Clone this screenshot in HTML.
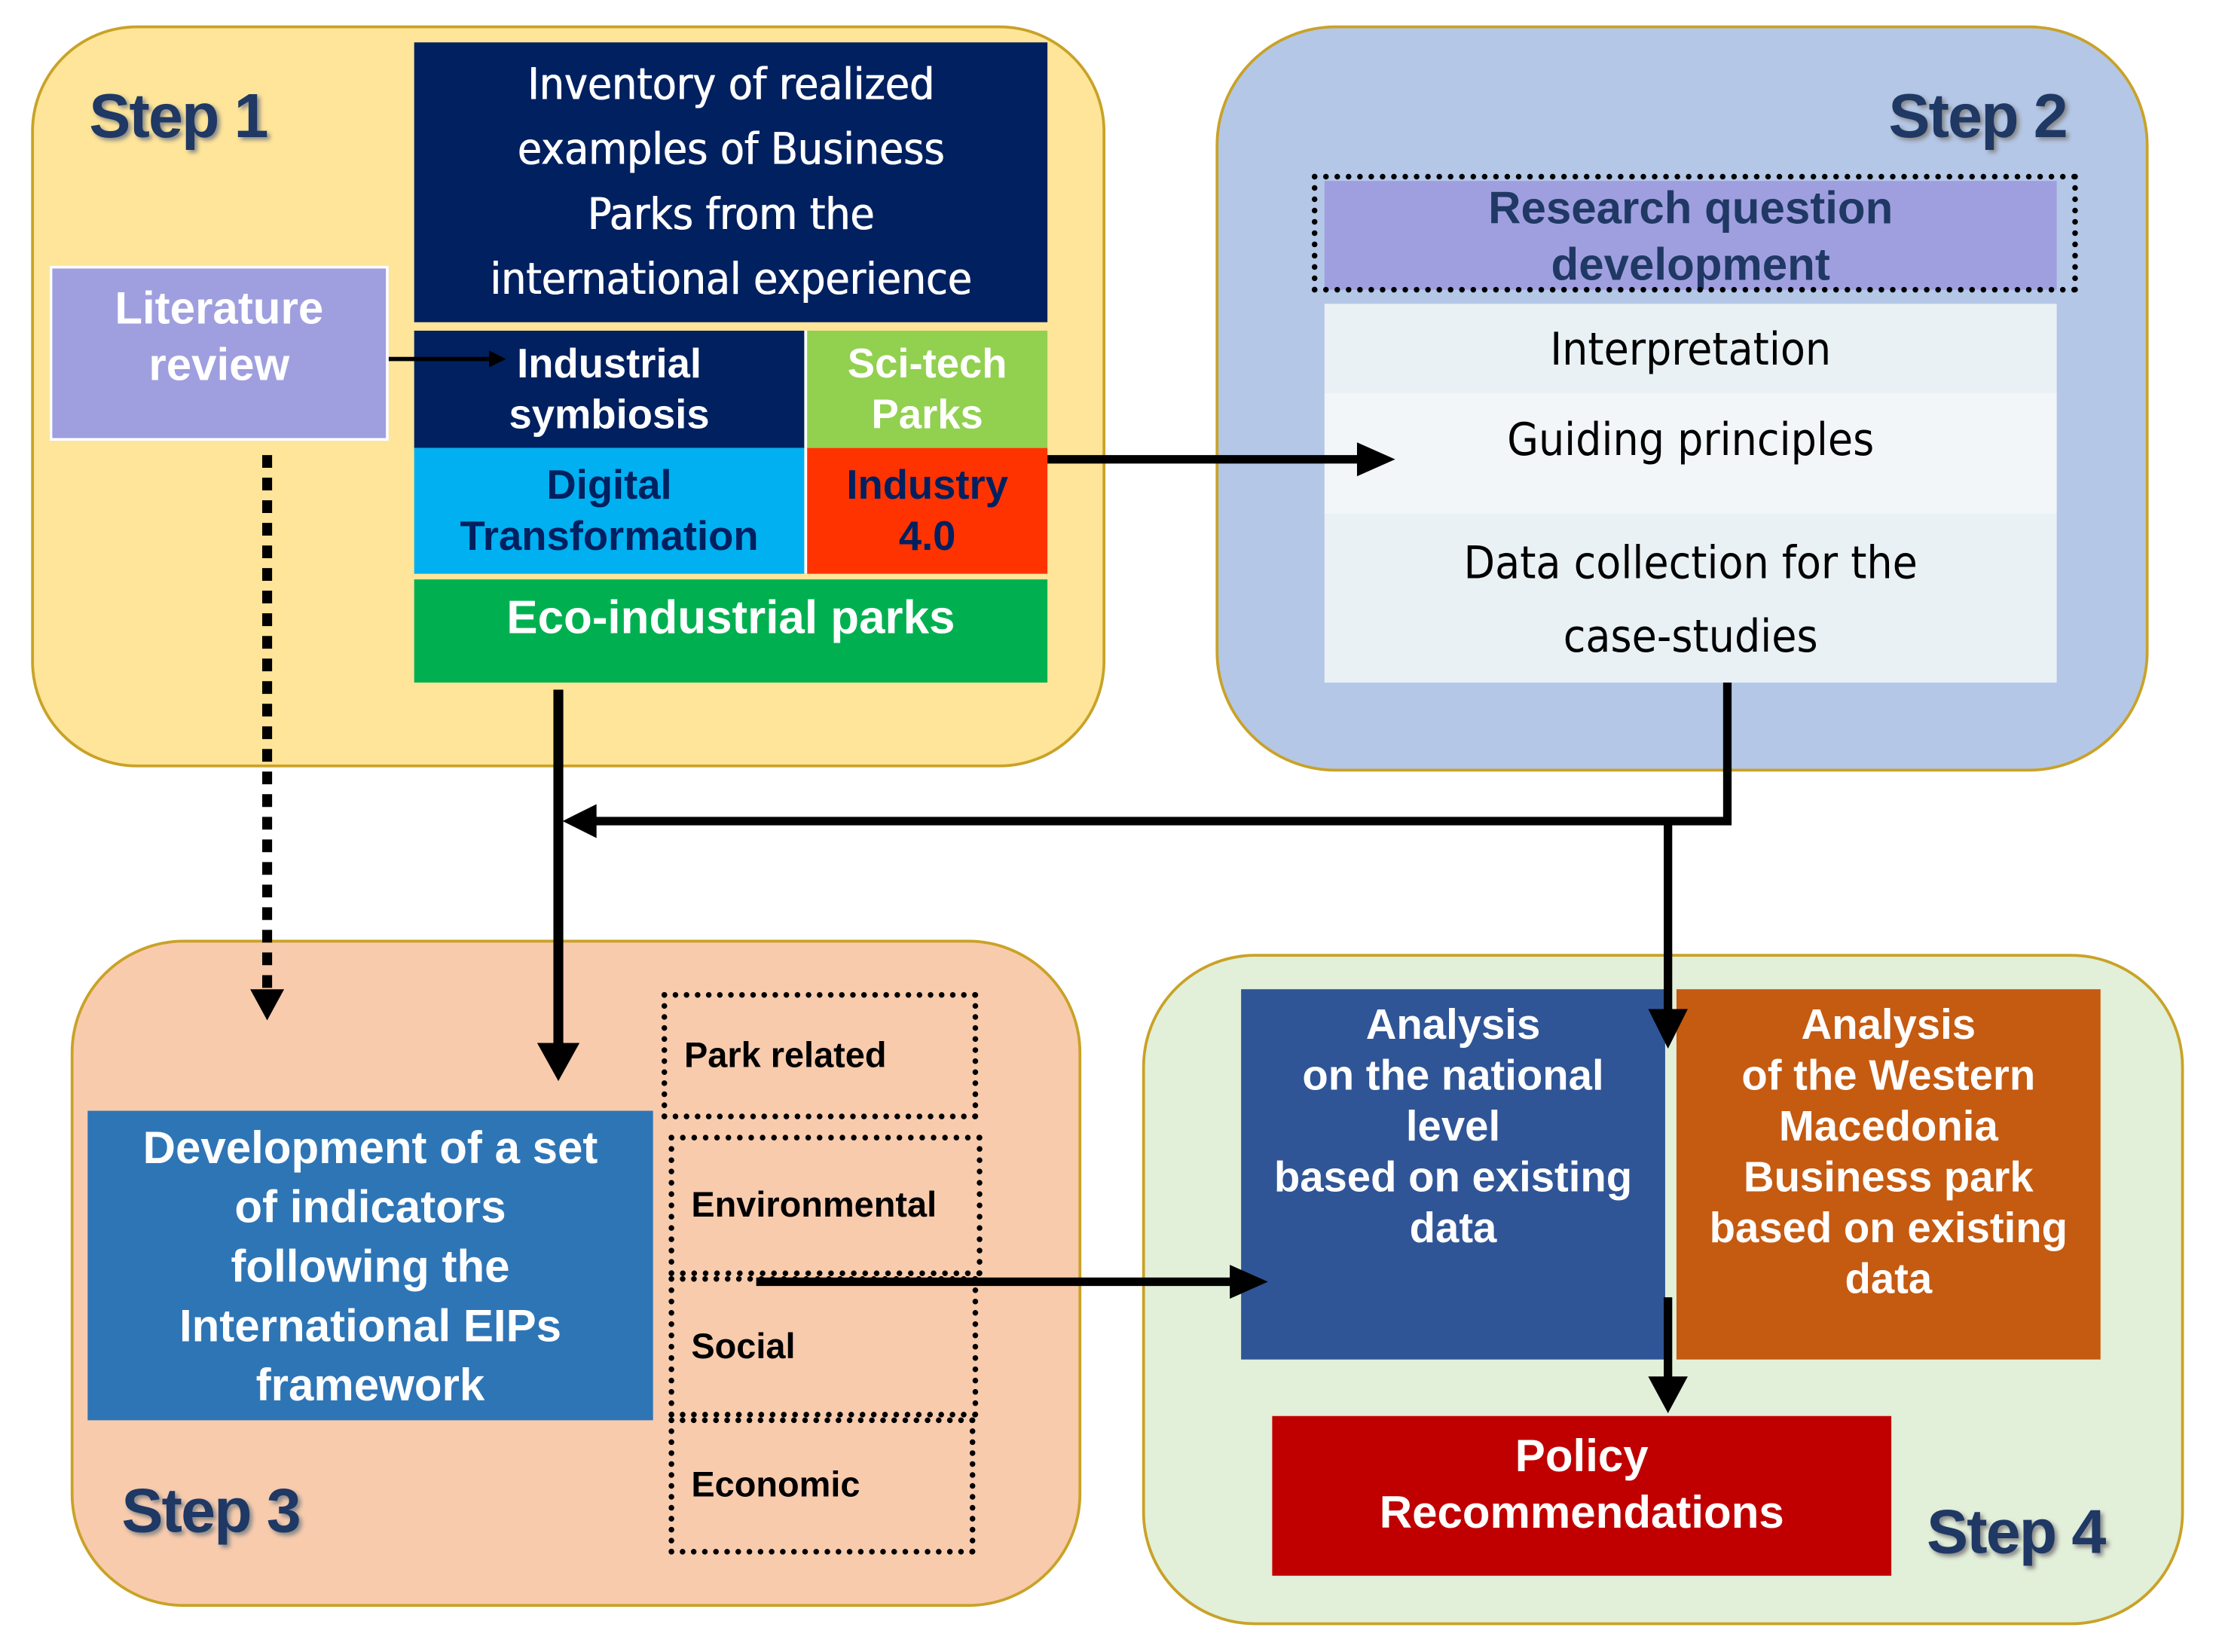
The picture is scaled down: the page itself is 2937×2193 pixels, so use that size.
<!DOCTYPE html>
<html><head><meta charset="utf-8"><style>
html,body{margin:0;padding:0;background:#fff;}
#wrap{width:2937px;height:2193px;overflow:hidden;position:relative;}
#c{position:absolute;left:0;top:0;width:1566px;height:1170px;transform:scale(1.876);transform-origin:0 0;font-family:"Liberation Sans",sans-serif;}
.b{position:absolute;box-sizing:border-box;display:flex;align-items:center;justify-content:center;text-align:center;}
.step{position:absolute;border:2.5px solid #c9a227;box-sizing:border-box;}
.st{position:absolute;font-weight:bold;font-size:44px;color:#1f3864;text-shadow:2px 2px 3px #888;font-family:"Liberation Sans Narrow","Liberation Sans",sans-serif;letter-spacing:-1px;}
.w{color:#fff;font-weight:bold;}
.g{font-family:"DejaVu Sans Condensed","Liberation Sans",sans-serif;}
.d{border:4px dotted #000;font-weight:bold;font-size:25px;color:#000;justify-content:flex-start;padding-left:12px;}
</style></head><body><div id="wrap"><div id="c">
<div class="step" style="left:22px;top:18px;width:760px;height:525px;background:#fee599;border-radius:75px;"></div>
<div class="step" style="left:860px;top:18px;width:660px;height:528px;background:#b4c7e7;border-radius:85px;"></div>
<div class="step" style="left:50px;top:665px;width:715px;height:472px;background:#f8cbad;border-radius:80px;"></div>
<div class="step" style="left:808px;top:675px;width:737px;height:475px;background:#e2efd9;border-radius:80px;"></div>
<div class="st" style="left:63px;top:58px;">Step 1</div>
<div class="st" style="left:1336px;top:58px;">Step 2</div>
<div class="st" style="left:86px;top:1045px;">Step 3</div>
<div class="st" style="left:1363px;top:1060px;">Step 4</div>

<div class="b w g" style="left:293px;top:30px;width:448px;height:198px;background:#002060;font-size:31px;font-weight:normal;line-height:46px;text-shadow:0.5px 0 0 #fff;">Inventory of realized<br>examples of Business<br>Parks from the<br>international experience</div>
<div class="b w" style="left:35px;top:188px;width:240px;height:124px;background:#9f9fdf;font-size:32px;line-height:40px;align-items:flex-start;padding-top:8px;border:2px solid #fff;">Literature<br>review</div>
<div class="b w" style="left:293px;top:234px;width:276px;height:83px;background:#002060;font-size:29px;line-height:36px;">Industrial<br>symbiosis</div>
<div class="b w" style="left:569px;top:234px;width:172px;height:83px;background:#92d050;font-size:29px;line-height:36px;border-left:2px solid #fff;">Sci-tech<br>Parks</div>
<div class="b" style="left:293px;top:317px;width:276px;height:89px;background:#00b0f0;color:#002060;font-weight:bold;font-size:29px;line-height:36px;">Digital<br>Transformation</div>
<div class="b" style="left:569px;top:317px;width:172px;height:89px;background:#ff3300;color:#002060;font-weight:bold;font-size:29px;line-height:36px;border-left:2px solid #fff;">Industry<br>4.0</div>
<div class="b w" style="left:293px;top:410px;width:448px;height:73px;background:#00b050;font-size:33px;align-items:flex-start;padding-top:8px;">Eco-industrial parks</div>

<div class="b" style="left:937px;top:128px;width:518px;height:77px;background:#9f9fdf;color:#1f3864;font-weight:bold;font-size:32px;line-height:40px;">Research question<br>development</div>
<div style="position:absolute;left:928px;top:123px;width:542px;height:84px;border:4px dotted #000;box-sizing:border-box;"></div>
<div class="b g" style="left:937px;top:215px;width:518px;height:63px;background:#e9f1f4;font-size:32px;color:#000;">Interpretation</div>
<div class="b g" style="left:937px;top:278px;width:518px;height:86px;background:#f2f6f8;font-size:32px;color:#000;align-items:flex-start;padding-top:14px;">Guiding principles</div>
<div class="b g" style="left:937px;top:364px;width:518px;height:119px;background:#e9f1f4;font-size:32px;color:#000;line-height:52px;">Data collection for the<br>case-studies</div>

<div class="b w" style="left:62px;top:786px;width:400px;height:219px;background:#2e75b6;font-size:32px;line-height:42px;">Development of a set<br>of indicators<br>following the<br>International EIPs<br>framework</div>
<div class="b d" style="left:468px;top:702px;width:224px;height:90px;">Park related</div>
<div class="b d" style="left:473px;top:803px;width:222px;height:100px;">Environmental</div>
<div class="b d" style="left:473px;top:903px;width:219px;height:100px;">Social</div>
<div class="b d" style="left:473px;top:1003px;width:217px;height:97px;">Economic</div>

<div class="b w" style="left:878px;top:700px;width:300px;height:262px;background:#2f5597;font-size:30px;line-height:36px;align-items:flex-start;padding-top:8px;">Analysis<br>on the national<br>level<br>based on existing<br>data</div>
<div class="b w" style="left:1186px;top:700px;width:300px;height:262px;background:#c55a11;font-size:30px;line-height:36px;align-items:flex-start;padding-top:8px;">Analysis<br>of the Western<br>Macedonia<br>Business park<br>based on existing<br>data</div>
<div class="b w" style="left:900px;top:1002px;width:438px;height:113px;background:#c00000;font-size:32px;line-height:40px;align-items:flex-start;padding-top:8px;">Policy<br>Recommendations</div>

<svg style="position:absolute;left:0;top:0" width="1566" height="1170">
<g stroke="#000" fill="none">
<line x1="275" y1="254" x2="348" y2="254" stroke-width="3"/>
<line x1="741" y1="325" x2="965" y2="325" stroke-width="6"/>
<polyline points="1222,483 1222,581 415,581" stroke-width="6"/>
<line x1="395" y1="488" x2="395" y2="740" stroke-width="7"/>
<line x1="1180" y1="581" x2="1180" y2="718" stroke-width="6"/>
<line x1="1180" y1="918" x2="1180" y2="980" stroke-width="6"/>
<line x1="535" y1="907" x2="875" y2="907" stroke-width="6"/>
<line x1="189" y1="322" x2="189" y2="700" stroke-width="7" stroke-dasharray="9,7"/>
</g>
<g fill="#000">
<polygon points="358,254 346,248 346,260"/>
<polygon points="987,325 960,313 960,337"/>
<polygon points="398,581 422,569 422,593"/>
<polygon points="395,765 380,738 410,738"/>
<polygon points="1180,742 1166,714 1194,714"/>
<polygon points="1180,1000 1166,974 1194,974"/>
<polygon points="897,907 870,895 870,919"/>
<polygon points="189,722 177,700 201,700"/>
</g>
</svg>
</div></div></body></html>
